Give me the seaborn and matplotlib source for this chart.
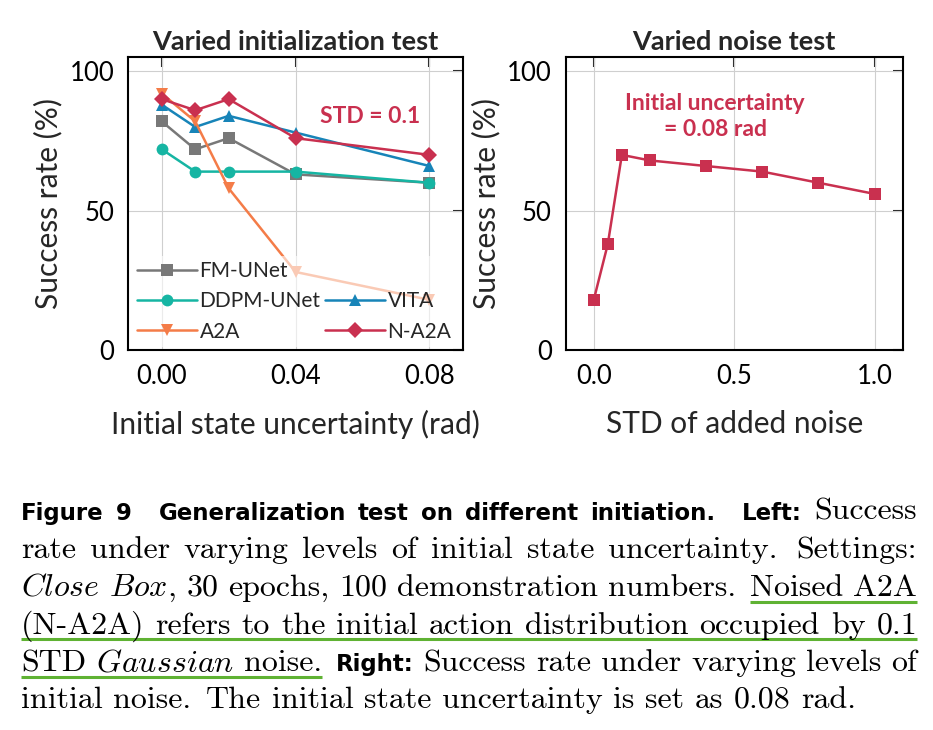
import matplotlib
matplotlib.use("Agg")
import matplotlib.pyplot as plt
from matplotlib.lines import Line2D
import seaborn as sns

# ---- data ----
init_std = [0.00, 0.01, 0.02, 0.04, 0.08]
fm_unet = [82, 72, 76, 63, 60]
ddpm_unet = [72, 64, 64, 64, 60]
vita = [88, 80, 84, 78, 66]
a2a = [92, 82, 58, 28, 18]
n_a2a = [90, 86, 90, 76, 70]

noise_std = [0.0, 0.05, 0.1, 0.2, 0.4, 0.6, 0.8, 1.0]
noise_success = [18, 38, 70, 68, 66, 64, 60, 56]

left_xticks = [0.00, 0.04, 0.08]
left_xticklabels = ["0.00", "0.04", "0.08"]
right_xticks = [0.0, 0.5, 1.0]
right_xticklabels = ["0.0", "0.5", "1.0"]
yticks = [0, 50, 100]

# (label, values, colour, marker)
series = [
    ("FM-UNet", fm_unet, "#787878", "s"),
    ("DDPM-UNet", ddpm_unet, "#16b5a3", "o"),
    ("VITA", vita, "#1784b8", "^"),
    ("A2A", a2a, "#f47c48", "v"),
    ("N-A2A", n_a2a, "#c9304f", "D"),
]
CRIMSON = "#c9304f"

caption_lines = [
    ([("Figure", "bf", 0), ("9", "bf", 1), ("Generalization", "bf", 2.2), ("test", "bf", 1),
      ("on", "bf", 1), ("different", "bf", 1), ("initiation.", "bf", 1), ("Left:", "bf", 2.2),
      ("Success", "rm", 1)], True),
    ([("rate", "rm", 0), ("under", "rm", 1), ("varying", "rm", 1), ("levels", "rm", 1), ("of", "rm", 1),
      ("initial", "rm", 1), ("state", "rm", 1), ("uncertainty.", "rm", 1), ("Settings:", "rm", 1.4)], True),
    ([("Close", "it", 0), ("Box", "it", 1), (",", "rm", 0), ("30", "rm", 1), ("epochs,", "rm", 1),
      ("100", "rm", 1), ("demonstration", "rm", 1), ("numbers.", "rm", 1), ("Noised", "rm", 1.4),
      ("A2A", "rm", 1)], True),
    ([("(N-A2A)", "rm", 0), ("refers", "rm", 1), ("to", "rm", 1), ("the", "rm", 1), ("initial", "rm", 1),
      ("action", "rm", 1), ("distribution", "rm", 1), ("occupied", "rm", 1), ("by", "rm", 1),
      ("0.1", "rm", 1)], True),
    ([("STD", "rm", 0), ("Gaussian", "it", 1), ("noise.", "rm", 1), ("Right:", "bf", 1.4),
      ("Success", "rm", 1), ("rate", "rm", 1), ("under", "rm", 1), ("varying", "rm", 1),
      ("levels", "rm", 1), ("of", "rm", 1)], True),
    ([("initial", "rm", 0), ("noise.", "rm", 1), ("The", "rm", 1.4), ("initial", "rm", 1),
      ("state", "rm", 1), ("uncertainty", "rm", 1), ("is", "rm", 1), ("set", "rm", 1), ("as", "rm", 1),
      ("0.08", "rm", 1), ("rad.", "rm", 1)], False),
]
caption_baselines = [520, 558, 596, 633.5, 671, 708]
# (line, first token, last token)
underlines = [(2, 8, 9), (3, 0, 9), (4, 0, 2)]

W, H = 933, 730
CAP_LEFT, CAP_RIGHT = 21, 917

sns.set_theme(style="white")
plt.rcParams["font.family"] = ["Lato", "DejaVu Sans"]
plt.rcParams["mathtext.fontset"] = "cm"

fig = plt.figure(figsize=(W / 100, H / 100), dpi=100)
ax1 = fig.add_axes([0.1375, 0.5205, 0.3587, 0.401])
ax2 = fig.add_axes([0.6063, 0.5205, 0.3612, 0.401])


def style_axes(ax, xticks, xticklabels, xlim, xlabel, title):
    ax.set_xlim(*xlim)
    ax.set_ylim(0, 105)
    ax.set_xticks(xticks)
    ax.set_xticklabels(xticklabels)
    ax.set_yticks(yticks)
    ax.grid(True, color="#cfcfcf", linewidth=0.8)
    ax.set_axisbelow(True)
    for sp in ax.spines.values():
        sp.set_color("black")
        sp.set_linewidth(1.5)
    ax.tick_params(direction="out", length=7, width=1.5, labelsize=18.5, colors="black", pad=3)
    ax.set_xlabel(xlabel, fontsize=21.5, labelpad=15)
    ax.set_ylabel("Success rate (%)", fontsize=21.5, labelpad=5)
    ax.set_title(title, fontsize=19.5, fontweight="bold", pad=5)
    # mirrored inward ticks on top and right
    top = ax.secondary_xaxis("top")
    top.set_xticks(xticks)
    top.tick_params(direction="in", length=7, width=1.5, labeltop=False)
    right = ax.secondary_yaxis("right")
    right.set_yticks(yticks)
    right.tick_params(direction="in", length=7, width=1.5, labelright=False)


# ---- left panel ----
for z, (name, vals, color, marker) in enumerate(series):
    sns.lineplot(x=init_std, y=vals, ax=ax1, color=color, marker=marker, markersize=8.5,
                 markeredgewidth=0, linewidth=1.8, label=name, zorder=3 + z)

style_axes(ax1, left_xticks, left_xticklabels, (-0.01, 0.09),
           "Initial state uncertainty (rad)", "Varied initialization test")
ax1.text(0.0621, 83.7, "STD = 0.1", color=CRIMSON, fontsize=16.5, fontweight="bold",
         ha="center", va="center")

handles, labels = ax1.get_legend_handles_labels()
hmap = dict(zip(labels, handles))
blank = Line2D([], [], linestyle="none")
order = ["FM-UNet", "DDPM-UNet", "A2A", None, "VITA", "N-A2A"]
leg = ax1.legend([hmap[k] if k else blank for k in order], [k if k else "" for k in order],
                 ncol=2, loc="lower left", bbox_to_anchor=(0.0, 0.0), fontsize=15,
                 frameon=True, framealpha=0.6, edgecolor="none", facecolor="white",
                 handlelength=2.9, handletextpad=0.12, columnspacing=0.2, labelspacing=0.5,
                 borderpad=0.25, borderaxespad=0.15)
leg.set_zorder(20)

# ---- right panel ----
sns.lineplot(x=noise_std, y=noise_success, ax=ax2, color=CRIMSON, marker="s", markersize=8.5,
             markeredgewidth=0, linewidth=1.8, zorder=3)
style_axes(ax2, right_xticks, right_xticklabels, (-0.1, 1.1),
           "STD of added noise", "Varied noise test")
ax2.text(0.432, 83.8, "Initial uncertainty\n= 0.08 rad", color=CRIMSON, fontsize=16.5,
         fontweight="bold", ha="center", va="center", linespacing=1.25)

# ---- caption, justified word by word ----
STYLES = {
    "rm": dict(fontfamily="cmr10", fontsize=23),
    "it": dict(fontsize=23),
    "bf": dict(fontfamily="DejaVu Sans", fontweight="bold", fontsize=16.5),
}
renderer = fig.canvas.get_renderer()
spans = []
for i, (tokens, justify) in enumerate(caption_lines):
    y = 1 - caption_baselines[i] / H
    placed = []
    for word, style, gap in tokens:
        s = r"$\mathit{%s}$" % word if style == "it" else word
        t = fig.text(0, y, s, va="baseline", ha="left", color="black", **STYLES[style])
        placed.append((t, t.get_window_extent(renderer).width, gap))
    total_w = sum(w for _, w, _ in placed)
    total_gap = sum(g for _, _, g in placed)
    unit = (CAP_RIGHT - CAP_LEFT - total_w) / total_gap if justify else 10.5
    x = CAP_LEFT
    line_spans = []
    for t, w, gap in placed:
        x += gap * unit
        t.set_x(x / W)
        line_spans.append((x, x + w))
        x += w
    spans.append(line_spans)

for li, a, b in underlines:
    x0, x1 = spans[li][a][0], spans[li][b][1]
    yy = 1 - (caption_baselines[li] + 5.5) / H
    fig.add_artist(Line2D([x0 / W, x1 / W], [yy, yy], transform=fig.transFigure,
                          color="#5fb233", linewidth=2.2, solid_capstyle="butt"))

fig.savefig("out.png", dpi=100)
